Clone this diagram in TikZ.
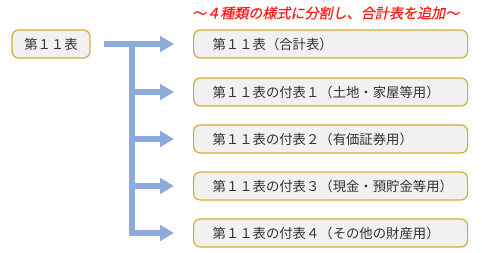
\documentclass[tikz,border=0pt]{standalone}
\usepackage{fontspec}
\usepackage{tikz}
\usetikzlibrary{arrows.meta, positioning, calc}
\usepackage{xcolor}
\newfontfamily\jpfont{Noto Sans CJK JP}
\newfontfamily\jptitle[FakeSlant=0.2,FakeBold=0.6]{Noto Sans CJK JP}
\definecolor{boxline}{HTML}{D4AC2B}
\definecolor{boxfill}{HTML}{F1F1F1}
\definecolor{flowblue}{HTML}{8EAADC}
\definecolor{titlered}{HTML}{FF1A1A}
\definecolor{boxtext}{HTML}{333333}

\begin{document}
\begin{tikzpicture}[
  x=0.3mm, y=-0.3mm,
    box/.style={
        draw=boxline,
        fill=boxfill,
        rounded corners=2mm,
        line width=0.35mm,
        text=boxtext,
        font=\jpfont\fontsize{11.4}{13}\selectfont,
        minimum height=8.4mm
    },
    wide/.style={
        box,
        anchor=west,
        inner xsep=5.7mm,
        text width=70.8mm,
        align=left,
        minimum width=82.2mm
    },
    flow/.style={
        -{Triangle[length=4.2mm,width=4.6mm]},
        draw=flowblue,
        line width=1.6mm,
        shorten >=5.7mm
    },
    bar/.style={
        draw=flowblue,
        line width=1.6mm,
        line cap=rect
    }
]
\useasboundingbox (0,0) rectangle (482,252);

\node[box, minimum width=23.4mm] (tab11) at (51,44) {第１１表};

\node[font=\jptitle\fontsize{12}{14}\selectfont, text=titlered, anchor=west]
  (title) at (188,13) {～４種類の様式に分割し、合計表を追加～};

\node[wide] (t1) at (193,44) {第１１表（合計表）};
\node[wide] (t2) at (193,92) {第１１表の付表１（土地・家屋等用）};
\node[wide] (t3) at (193,139) {第１１表の付表２（有価証券用）};
\node[wide] (t4) at (193,186) {第１１表の付表３（現金・預貯金等用）};
\node[wide] (t5) at (193,233) {第１１表の付表４（その他の財産用）};

\coordinate (fork) at (132,44);

\draw[flow, shorten <=3.9mm] (tab11.east) -- (t1.west);
\draw[bar] (fork) -- (fork |- t5.west);
\foreach \i in {2,...,5}
  \draw[flow] (fork |- t\i.west) -- (t\i.west);

\end{tikzpicture}
\end{document}
